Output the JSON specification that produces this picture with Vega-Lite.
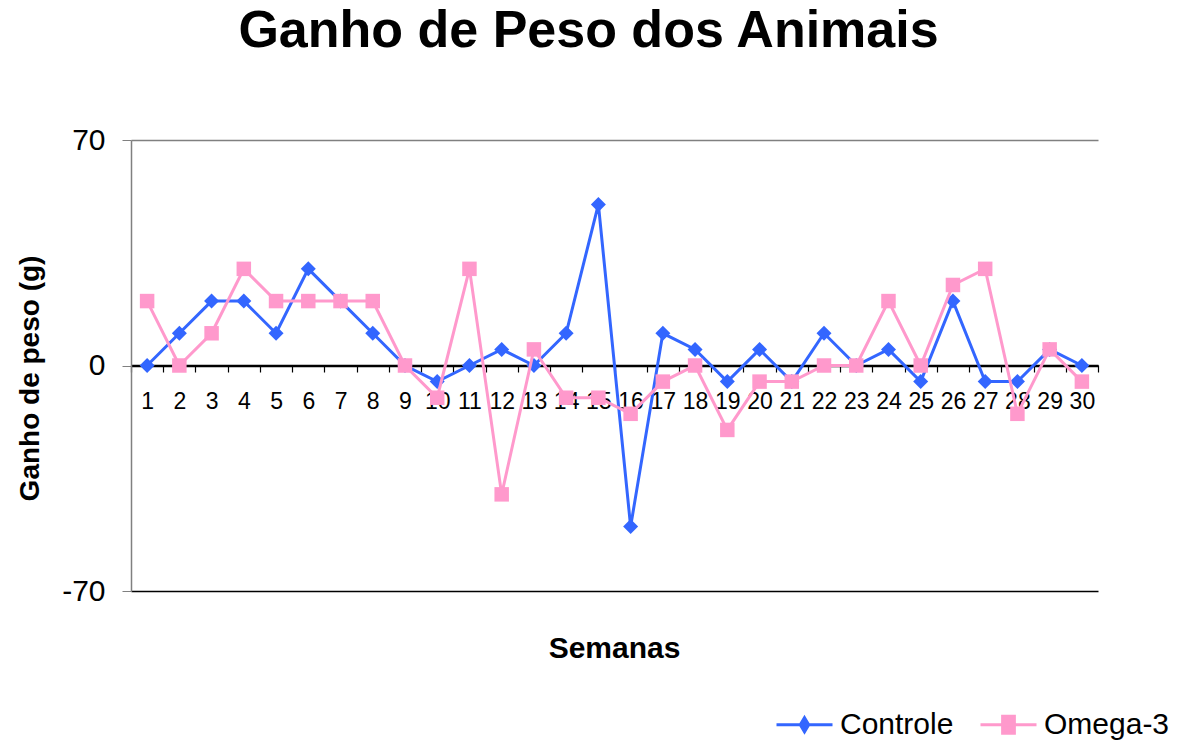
{
  "$schema": "https://vega.github.io/schema/vega-lite/v6.json",
  "width": 967,
  "height": 451,
  "autosize": {"type": "none"},
  "padding": {"left": 131, "top": 140, "right": 89, "bottom": 151},
  "background": "white",
  "config": {
    "view": {"stroke": null},
    "font": "Liberation Sans"
  },
  "title": {
    "text": "Ganho de Peso dos Animais",
    "font": "Liberation Sans",
    "fontSize": 52,
    "fontWeight": "bold",
    "color": "#000000",
    "anchor": "middle",
    "dx": -26,
    "baseline": "alphabetic",
    "offset": 26
  },
  "data": {
    "values": [
      {"semana": 1, "serie": "Controle", "ganho": 0},
      {"semana": 2, "serie": "Controle", "ganho": 10},
      {"semana": 3, "serie": "Controle", "ganho": 20},
      {"semana": 4, "serie": "Controle", "ganho": 20},
      {"semana": 5, "serie": "Controle", "ganho": 10},
      {"semana": 6, "serie": "Controle", "ganho": 30},
      {"semana": 7, "serie": "Controle", "ganho": 20},
      {"semana": 8, "serie": "Controle", "ganho": 10},
      {"semana": 9, "serie": "Controle", "ganho": 0},
      {"semana": 10, "serie": "Controle", "ganho": -5},
      {"semana": 11, "serie": "Controle", "ganho": 0},
      {"semana": 12, "serie": "Controle", "ganho": 5},
      {"semana": 13, "serie": "Controle", "ganho": 0},
      {"semana": 14, "serie": "Controle", "ganho": 10},
      {"semana": 15, "serie": "Controle", "ganho": 50},
      {"semana": 16, "serie": "Controle", "ganho": -50},
      {"semana": 17, "serie": "Controle", "ganho": 10},
      {"semana": 18, "serie": "Controle", "ganho": 5},
      {"semana": 19, "serie": "Controle", "ganho": -5},
      {"semana": 20, "serie": "Controle", "ganho": 5},
      {"semana": 21, "serie": "Controle", "ganho": -5},
      {"semana": 22, "serie": "Controle", "ganho": 10},
      {"semana": 23, "serie": "Controle", "ganho": 0},
      {"semana": 24, "serie": "Controle", "ganho": 5},
      {"semana": 25, "serie": "Controle", "ganho": -5},
      {"semana": 26, "serie": "Controle", "ganho": 20},
      {"semana": 27, "serie": "Controle", "ganho": -5},
      {"semana": 28, "serie": "Controle", "ganho": -5},
      {"semana": 29, "serie": "Controle", "ganho": 5},
      {"semana": 30, "serie": "Controle", "ganho": 0},
      {"semana": 1, "serie": "Omega-3", "ganho": 20},
      {"semana": 2, "serie": "Omega-3", "ganho": 0},
      {"semana": 3, "serie": "Omega-3", "ganho": 10},
      {"semana": 4, "serie": "Omega-3", "ganho": 30},
      {"semana": 5, "serie": "Omega-3", "ganho": 20},
      {"semana": 6, "serie": "Omega-3", "ganho": 20},
      {"semana": 7, "serie": "Omega-3", "ganho": 20},
      {"semana": 8, "serie": "Omega-3", "ganho": 20},
      {"semana": 9, "serie": "Omega-3", "ganho": 0},
      {"semana": 10, "serie": "Omega-3", "ganho": -10},
      {"semana": 11, "serie": "Omega-3", "ganho": 30},
      {"semana": 12, "serie": "Omega-3", "ganho": -40},
      {"semana": 13, "serie": "Omega-3", "ganho": 5},
      {"semana": 14, "serie": "Omega-3", "ganho": -10},
      {"semana": 15, "serie": "Omega-3", "ganho": -10},
      {"semana": 16, "serie": "Omega-3", "ganho": -15},
      {"semana": 17, "serie": "Omega-3", "ganho": -5},
      {"semana": 18, "serie": "Omega-3", "ganho": 0},
      {"semana": 19, "serie": "Omega-3", "ganho": -20},
      {"semana": 20, "serie": "Omega-3", "ganho": -5},
      {"semana": 21, "serie": "Omega-3", "ganho": -5},
      {"semana": 22, "serie": "Omega-3", "ganho": 0},
      {"semana": 23, "serie": "Omega-3", "ganho": 0},
      {"semana": 24, "serie": "Omega-3", "ganho": 20},
      {"semana": 25, "serie": "Omega-3", "ganho": 0},
      {"semana": 26, "serie": "Omega-3", "ganho": 25},
      {"semana": 27, "serie": "Omega-3", "ganho": 30},
      {"semana": 28, "serie": "Omega-3", "ganho": -15},
      {"semana": 29, "serie": "Omega-3", "ganho": 5},
      {"semana": 30, "serie": "Omega-3", "ganho": -5}
    ]
  },
  "encoding": {
    "x": {
      "field": "semana",
      "type": "ordinal",
      "scale": {"type": "band", "paddingInner": 0, "paddingOuter": 0},
      "axis": {
        "title": "Semanas",
        "titleFont": "Liberation Sans",
        "titleFontSize": 30,
        "titleFontWeight": "bold",
        "titleColor": "#000000",
        "titleX": 483,
        "titleY": 292,
        "titleAlign": "center",
        "titleBaseline": "alphabetic",
        "offset": -226,
        "labelAngle": 0,
        "labelFont": "Liberation Sans",
        "labelFontSize": 23,
        "labelColor": "#000000",
        "labelPadding": 18,
        "labelOverlap": false,
        "labelFlush": false,
        "domainColor": "#000000",
        "domainWidth": 1.5,
        "tickColor": "#000000",
        "tickWidth": 1.2,
        "tickSize": 7,
        "tickBand": "extent",
        "grid": false
      }
    },
    "y": {
      "field": "ganho",
      "type": "quantitative",
      "scale": {"domain": [-70, 70], "nice": false, "zero": false},
      "axis": {
        "title": "Ganho de peso (g)",
        "titleFont": "Liberation Sans",
        "titleFontSize": 28,
        "titleFontWeight": "bold",
        "titleColor": "#000000",
        "titleAngle": 270,
        "titleX": -101,
        "titleY": 238,
        "titleAlign": "center",
        "titleBaseline": "middle",
        "values": [-70, 0, 70],
        "labelExpr": "datum.value + ''",
        "labelFont": "Liberation Sans",
        "labelFontSize": 30,
        "labelColor": "#000000",
        "labelPadding": 17,
        "tickSize": 9,
        "tickColor": "#808080",
        "domainColor": "#808080",
        "domainWidth": 1.5,
        "grid": true,
        "gridColor": {"condition": {"test": "datum.value === 70", "value": "#808080"}, "value": "#000000"},
        "gridWidth": 1.5,
        "gridOpacity": 1
      }
    },
    "color": {
      "field": "serie",
      "type": "nominal",
      "scale": {"domain": ["Controle", "Omega-3"], "range": ["#3366FF", "#FF99CC"]},
      "legend": {
        "title": null,
        "orient": "none",
        "direction": "horizontal",
        "legendX": 644,
        "legendY": 555,
        "padding": 0,
        "labelFont": "Liberation Sans",
        "labelFontSize": 30,
        "labelColor": "#000000",
        "labelOffset": 6,
        "columnPadding": 20,
        "symbolSize": 3136,
        "symbolStrokeWidth": 3,
        "encode": {
          "symbols": {
            "update": {
              "shape": {"signal": "datum.value === 'Controle' ? 'M-1,0H1M0,-0.25L0.15,0L0,0.25L-0.15,0Z' : 'M-1,0H1M-0.21,-0.3H0.21V0.3H-0.21Z'"},
              "fill": {"scale": "color", "field": "value"},
              "stroke": {"scale": "color", "field": "value"},
              "strokeWidth": {"value": 3},
              "opacity": {"value": 1},
              "fillOpacity": {"value": 1}
            }
          }
        }
      }
    }
  },
  "layer": [
    {
      "transform": [{"filter": "datum.serie === 'Controle'"}],
      "mark": {"type": "line", "strokeWidth": 3}
    },
    {
      "transform": [{"filter": "datum.serie === 'Controle'"}],
      "mark": {"type": "point", "shape": "diamond", "filled": true, "size": 225, "opacity": 1}
    },
    {
      "transform": [{"filter": "datum.serie === 'Omega-3'"}],
      "mark": {"type": "line", "strokeWidth": 3}
    },
    {
      "transform": [{"filter": "datum.serie === 'Omega-3'"}],
      "mark": {"type": "point", "shape": "square", "filled": true, "size": 210, "opacity": 1}
    }
  ]
}
